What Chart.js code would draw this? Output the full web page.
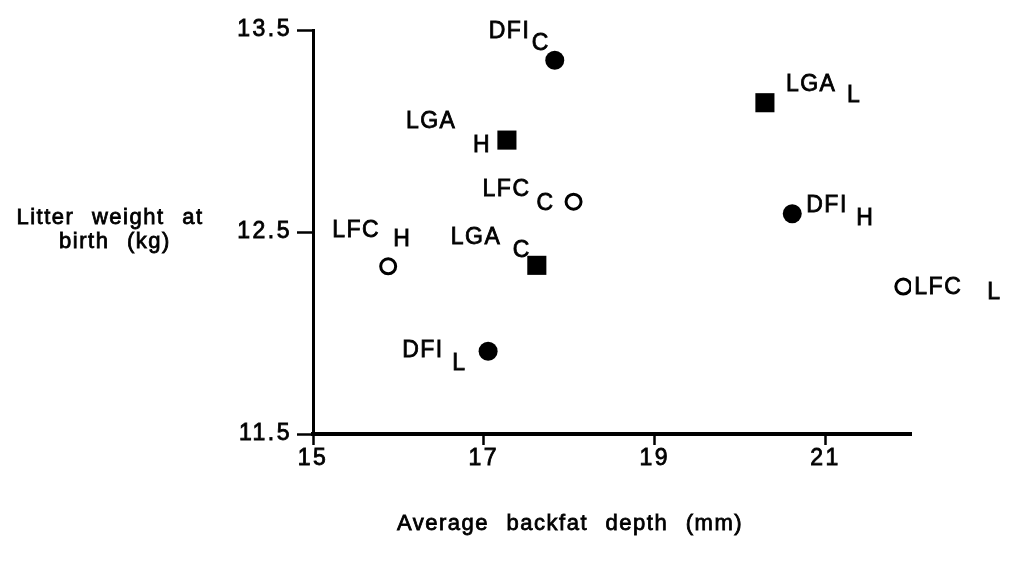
<!DOCTYPE html>
<html>
<head>
<meta charset="utf-8">
<script src="https://cdn.jsdelivr.net/npm/chart.js@4.4.1/dist/chart.umd.min.js"></script>
<style>
  html, body { margin: 0; padding: 0; background: #fff; }
  #wrap { position: relative; width: 1009px; height: 562px; }
</style>
</head>
<body>
<div id="wrap"><canvas id="chart"></canvas></div>
<script>
// Axis ticks
const xTicks = [15, 17, 19, 21];
const yTicks = [11.5, 12.5, 13.5];

// DFI group (filled circles)
const dfiLevels = ['C', 'H', 'L'];
const dfiBackfat = [17.83, 20.61, 17.05];
const dfiLitter = [13.35, 12.59, 11.91];

// LGA group (filled squares)
const lgaLevels = ['L', 'H', 'C'];
const lgaBackfat = [20.29, 17.27, 17.62];
const lgaLitter = [13.14, 12.955, 12.335];

// LFC group (open circles)
const lfcLevels = ['C', 'H', 'L'];
const lfcBackfat = [18.05, 15.88, 21.91];
const lfcLitter = [12.65, 12.33, 12.23];

// label placement around each point: [nameDx, nameDy, subDx, subDy] (px, baseline)
const labelOffsets = {
    DFI: [[-66, -22, -23, -10], [14, -2, 64, 11], [-86, 6, -36, 19]],
    LGA: [[21, -12, 82, -1], [-101, -12, -34, 12], [-86, -21, -24, -8]],
    LFC: [[-91, -6, -37, 8], [-56, -29, 5, -20], [11, 7, 84, 12]]
};

const FONT = '"Liberation Sans", Arial, Helvetica, sans-serif';

function points(xs, ys) {
    return xs.map((x, i) => ({ x: x, y: ys[i] }));
}

// fill + thin stroke so the glyphs look as heavy as the scanned original
function heavyText(ctx, text, x, y) {
    ctx.fillText(text, x, y);
    ctx.strokeText(text, x, y);
}

const pointLabels = {
    id: 'pointLabels',
    afterDatasetsDraw(chart) {
        const ctx = chart.ctx;
        ctx.save();
        ctx.fillStyle = '#000';
        ctx.strokeStyle = '#000';
        ctx.lineWidth = 0.8;
        ctx.font = '23px ' + FONT;
        ctx.letterSpacing = '1.5px';
        ctx.textAlign = 'left';
        ctx.textBaseline = 'alphabetic';
        chart.data.datasets.forEach((ds, i) => {
            const meta = chart.getDatasetMeta(i);
            meta.data.forEach((el, j) => {
                const o = labelOffsets[ds.label][j];
                heavyText(ctx, ds.label, el.x + o[0], el.y + o[1]);
                heavyText(ctx, ds.levels[j], el.x + o[2], el.y + o[3]);
            });
        });
        ctx.restore();
    }
};

const axisTitles = {
    id: 'axisTitles',
    beforeDraw(chart) {
        chart.ctx.letterSpacing = '2.5px';
    },
    afterDraw(chart) {
        const ctx = chart.ctx;
        ctx.save();
        ctx.fillStyle = '#000';
        ctx.strokeStyle = '#000';
        ctx.lineWidth = 0.8;
        ctx.font = '22px ' + FONT;
        ctx.letterSpacing = '1.5px';
        ctx.wordSpacing = '10px';
        ctx.textAlign = 'center';
        ctx.textBaseline = 'alphabetic';
        heavyText(ctx, 'Litter weight at', 110, 224);
        heavyText(ctx, 'birth (kg)', 115, 248);
        heavyText(ctx, 'Average backfat depth (mm)', 570, 530);
        ctx.restore();
    }
};

new Chart(document.getElementById('chart'), {
    type: 'scatter',
    data: {
        datasets: [
            {
                label: 'DFI',
                levels: dfiLevels,
                data: points(dfiBackfat, dfiLitter),
                pointStyle: 'circle',
                pointRadius: 9.5,
                backgroundColor: '#000',
                borderColor: '#000',
                borderWidth: 0
            },
            {
                label: 'LGA',
                levels: lgaLevels,
                data: points(lgaBackfat, lgaLitter),
                pointStyle: 'rect',
                pointRadius: 13.5,
                backgroundColor: '#000',
                borderColor: '#000',
                borderWidth: 0
            },
            {
                label: 'LFC',
                levels: lfcLevels,
                data: points(lfcBackfat, lfcLitter),
                pointStyle: 'circle',
                pointRadius: 7.5,
                backgroundColor: '#fff',
                borderColor: '#000',
                borderWidth: 3
            }
        ]
    },
    options: {
        responsive: true,
        maintainAspectRatio: false,
        animation: false,
        layout: { padding: { top: 30, right: 98, bottom: 0, left: 0 } },
        plugins: {
            legend: { display: false },
            tooltip: { enabled: false }
        },
        elements: { point: { hoverRadius: 0 } },
        scales: {
            x: {
                type: 'linear',
                min: 15,
                max: 22,
                afterBuildTicks: (s) => { s.ticks = xTicks.map(v => ({ value: v })); },
                afterFit: (s) => { s.height = 128; },
                grid: {
                    drawOnChartArea: false,
                    drawTicks: true,
                    tickLength: 11,
                    tickWidth: 2.5,
                    tickColor: '#000'
                },
                border: { display: true, color: '#000', width: 4 },
                ticks: {
                    color: '#000',
                    font: { family: FONT, size: 23 },
                    textStrokeColor: '#000',
                    textStrokeWidth: 0.8,
                    padding: 0,
                    maxRotation: 0
                },
                title: { display: false }
            },
            y: {
                type: 'linear',
                min: 11.5,
                max: 13.5,
                afterBuildTicks: (s) => { s.ticks = yTicks.map(v => ({ value: v })); },
                afterFit: (s) => { s.width = 313; },
                grid: {
                    drawOnChartArea: false,
                    drawTicks: true,
                    tickLength: 16,
                    tickWidth: 2.5,
                    tickColor: '#000'
                },
                border: { display: true, color: '#000', width: 3 },
                ticks: {
                    color: '#000',
                    font: { family: FONT, size: 23 },
                    textStrokeColor: '#000',
                    textStrokeWidth: 0.8,
                    padding: 5,
                    callback: (v) => v.toFixed(1)
                },
                title: { display: false }
            }
        }
    },
    plugins: [pointLabels, axisTitles]
});
</script>
</body>
</html>
